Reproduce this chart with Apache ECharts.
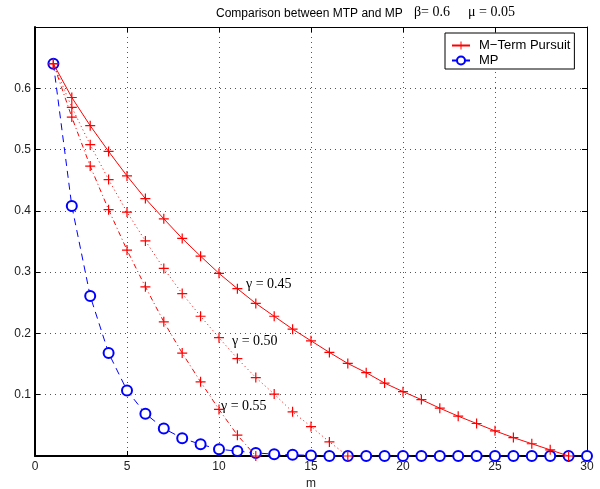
<!DOCTYPE html>
<html>
<head>
<meta charset="utf-8">
<script src="https://cdn.jsdelivr.net/npm/echarts@6/dist/echarts.min.js"></script>
<style>html,body{margin:0;padding:0;background:#fff}#c{width:600px;height:489px}</style>
</head>
<body>
<div id="c"></div>
<script>
// m values
var m = [];
for (var i = 1; i <= 30; i++) m.push(i);

// M-Term Pursuit, gamma = 0.45 (m = 1..29)
var mtp045 = [0.640, 0.585, 0.539, 0.497, 0.457, 0.420, 0.387, 0.355, 0.326, 0.298,
              0.273, 0.249, 0.228, 0.207, 0.188, 0.169, 0.151, 0.136, 0.119, 0.105,
              0.092, 0.078, 0.065, 0.053, 0.041, 0.030, 0.020, 0.010, 0.000];
// gamma = 0.50 (m = 1..17)
var mtp050 = [0.640, 0.569, 0.508, 0.451, 0.398, 0.351, 0.306, 0.265, 0.228, 0.193,
              0.159, 0.128, 0.101, 0.072, 0.048, 0.023, 0.000];
// gamma = 0.55 (m = 1..12)
var mtp055 = [0.640, 0.553, 0.473, 0.402, 0.336, 0.276, 0.219, 0.168, 0.121, 0.076,
              0.034, 0.000];
// MP (m = 1..30)
var mp = [0.640, 0.408, 0.261, 0.168, 0.107, 0.069, 0.045, 0.029, 0.019, 0.011,
          0.008, 0.005, 0.003, 0.002, 0.001, 0, 0, 0, 0, 0,
          0, 0, 0, 0, 0, 0, 0, 0, 0, 0];

var xTicks = [0, 5, 10, 15, 20, 25, 30];
var yTicks = [0.1, 0.2, 0.3, 0.4, 0.5, 0.6];

function pairs(arr) { return arr.map(function (v, i) { return [m[i], v]; }); }

var plus = 'path://M4.4,0 L5.6,0 L5.6,4.4 L10,4.4 L10,5.6 L5.6,5.6 L5.6,10 L4.4,10 L4.4,5.6 L0,5.6 L0,4.4 L4.4,4.4 Z';
var RED = '#ff0000', BLUE = '#0000ff';
var mtpName = 'M\u2212Term Pursuit';

function redSeries(data, type) {
  return {
    name: mtpName, type: 'line', data: pairs(data),
    symbol: plus, symbolSize: 10, showSymbol: true,
    lineStyle: { color: RED, width: 1, type: type },
    itemStyle: { color: RED, borderWidth: 0 },
    emphasis: { disabled: true }, animation: false, z: 3
  };
}

var chart = echarts.init(document.getElementById('c'));
var axisLbl = { color: '#222', fontSize: 12, fontFamily: 'Liberation Sans, Arial, sans-serif' };
chart.setOption({
  animation: false,
  grid: { left: 35, right: 13, top: 27, bottom: 33, containLabel: false, outerBoundsMode: 'none' },
  legend: {
    data: [mtpName, 'MP'],
    orient: 'vertical', left: 445, top: 33,
    itemWidth: 18, itemHeight: 10, itemGap: 2,
    padding: [6, 4, 2, 6],
    borderColor: '#000', borderWidth: 1, backgroundColor: '#fff',
    textStyle: { fontSize: 13, color: '#000', fontFamily: 'Liberation Sans, Arial, sans-serif', padding: [0, 0, 0, 4] },
    selectedMode: false
  },
  xAxis: [{
    type: 'value', min: 0, max: 30, interval: 5,
    name: 'm', nameLocation: 'middle', nameGap: 15,
    nameTextStyle: { color: '#222', fontSize: 12, fontFamily: 'Liberation Sans, Arial, sans-serif' },
    axisLine: { show: true, onZero: false, lineStyle: { color: '#000', width: 2 } },
    axisTick: { show: true, inside: true, length: 5, lineStyle: { color: '#000' } },
    axisLabel: Object.assign({ margin: 5, formatter: function (v) { return xTicks.indexOf(v) >= 0 ? String(v) : ''; } }, axisLbl),
    splitLine: { show: true, lineStyle: { color: '#555', type: [1, 4], width: 1 } }
  }, {
    type: 'value', min: 0, max: 30, interval: 5, position: 'top',
    axisLine: { show: true, onZero: false, lineStyle: { color: '#000', width: 1 } },
    axisTick: { show: true, inside: true, length: 5, lineStyle: { color: '#000' } },
    axisLabel: { show: false }, splitLine: { show: false }
  }],
  yAxis: [{
    type: 'value', min: 0, max: 0.7, interval: 0.1,
    axisLine: { show: true, onZero: false, lineStyle: { color: '#000', width: 2 } },
    axisTick: { show: true, inside: true, length: 5, lineStyle: { color: '#000' } },
    axisLabel: Object.assign({ margin: 4, formatter: function (v) {
      var r = Math.round(v * 10) / 10;
      return yTicks.indexOf(r) >= 0 ? r.toFixed(1) : '';
    } }, axisLbl),
    splitLine: { show: true, lineStyle: { color: '#555', type: [1, 4], width: 1 } }
  }, {
    type: 'value', min: 0, max: 0.7, interval: 0.1, position: 'right',
    axisLine: { show: true, onZero: false, lineStyle: { color: '#000', width: 1 } },
    axisTick: { show: true, inside: true, length: 5, lineStyle: { color: '#000' } },
    axisLabel: { show: false }, splitLine: { show: false }
  }],
  series: [
    redSeries(mtp045, 'solid'),
    redSeries(mtp050, [1, 3]),
    redSeries(mtp055, [5, 3, 1, 3]),
    {
      name: 'MP', type: 'line', data: pairs(mp),
      symbol: 'emptyCircle', symbolSize: 10, showSymbol: true,
      lineStyle: { color: BLUE, width: 1, type: [7, 5] },
      itemStyle: { color: BLUE, borderColor: BLUE, borderWidth: 1 },
      emphasis: { disabled: true }, z: 2
    }
  ],
  graphic: [
    { type: 'text', left: 216, top: 8, style: { text: 'Comparison between MTP and MP', font: '12px "Liberation Sans", Arial, sans-serif', fill: '#000' } },
    { type: 'text', left: 414, top: 5, style: { text: '\u03b2= 0.6', font: '14px "Liberation Serif", "Times New Roman", serif', fill: '#000' } },
    { type: 'text', left: 468, top: 5, style: { text: '\u03bc = 0.05', font: '14px "Liberation Serif", "Times New Roman", serif', fill: '#000' } },
    { type: 'text', left: 246, top: 277, style: { text: '\u03b3 = 0.45', font: '14px "Liberation Serif", "Times New Roman", serif', fill: '#000' } },
    { type: 'text', left: 232, top: 334, style: { text: '\u03b3 = 0.50', font: '14px "Liberation Serif", "Times New Roman", serif', fill: '#000' } },
    { type: 'text', left: 221, top: 399, style: { text: '\u03b3 = 0.55', font: '14px "Liberation Serif", "Times New Roman", serif', fill: '#000' } }
  ]
});
</script>
</body>
</html>
